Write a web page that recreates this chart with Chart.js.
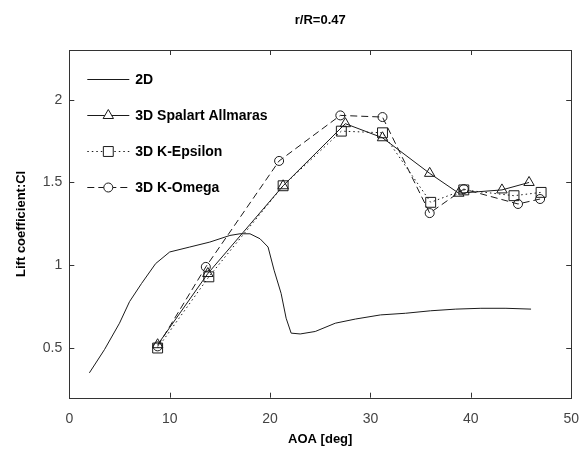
<!DOCTYPE html>
<html>
<head>
<meta charset="utf-8">
<script src="https://cdn.jsdelivr.net/npm/chart.js@4.4.1/dist/chart.umd.min.js"></script>
<style>
  html, body { margin: 0; padding: 0; background: #fff; overflow: hidden; }
  #wrap { position: relative; width: 582px; height: 451px; overflow: hidden; }
</style>
</head>
<body>
<div id="wrap"><canvas id="liftChart" width="592" height="451"></canvas></div>
<script>
// values
const aoa2D = [2, 3.5, 5, 6, 7.2, 8.6, 10, 12, 14, 16, 17, 18, 19, 19.8, 20.4, 21.1, 21.6, 22.1, 23, 24.5, 26.5, 28.5, 31, 33.5, 36, 38.5, 41, 43.5, 46];
const cl2D  = [0.35, 0.49, 0.65, 0.78, 0.89, 1.01, 1.08, 1.11, 1.14, 1.18, 1.19, 1.19, 1.16, 1.11, 0.97, 0.83, 0.68, 0.59, 0.585, 0.60, 0.65, 0.675, 0.70, 0.71, 0.725, 0.735, 0.74, 0.74, 0.735];

const aoaSA = [8.8, 13.8, 21.3, 27.5, 31.2, 35.9, 38.8, 43.1, 45.8];
const clSA  = [0.52, 0.95, 1.48, 1.855, 1.77, 1.555, 1.435, 1.455, 1.50];

const aoaKE = [8.8, 13.9, 21.3, 27.1, 31.2, 36.0, 39.3, 44.3, 47.0];
const clKE  = [0.50, 0.93, 1.48, 1.81, 1.80, 1.38, 1.455, 1.42, 1.44];

const aoaKO = [8.8, 13.6, 20.9, 27.0, 31.2, 35.9, 39.3, 44.7, 46.9];
const clKO  = [0.51, 0.99, 1.63, 1.905, 1.895, 1.315, 1.46, 1.37, 1.40];

const xTicks = [0, 10, 20, 30, 40, 50];
const yTicks = [0.5, 1, 1.5, 2];
const titleText = 'r/R=0.47';

const ink = '#1a1a1a';
const pts = (xs, ys) => xs.map((x, i) => ({ x: x, y: ys[i] }));

// matlab style box, inward ticks, title over the axes and a legend inside them
const framePlugin = {
  id: 'frame',
  afterDraw(chart) {
    const { ctx, chartArea: a, scales: { x, y } } = chart;
    ctx.save();
    ctx.strokeStyle = '#333';
    ctx.lineWidth = 1;
    ctx.strokeRect(Math.round(a.left) + 0.5, Math.round(a.top) + 0.5,
      Math.round(a.right - a.left), Math.round(a.bottom - a.top));
    ctx.beginPath();
    xTicks.forEach(v => {
      const px = Math.round(x.getPixelForValue(v)) + 0.5;
      ctx.moveTo(px, a.bottom); ctx.lineTo(px, a.bottom - 5);
      ctx.moveTo(px, a.top); ctx.lineTo(px, a.top + 5);
    });
    yTicks.forEach(v => {
      const py = Math.round(y.getPixelForValue(v)) + 0.5;
      ctx.moveTo(a.left, py); ctx.lineTo(a.left + 5, py);
      ctx.moveTo(a.right, py); ctx.lineTo(a.right - 5, py);
    });
    ctx.stroke();

    // title, centred over the axes like matlab does
    ctx.fillStyle = '#000';
    ctx.font = 'bold 13px "Liberation Sans", Arial, sans-serif';
    ctx.textAlign = 'center';
    ctx.textBaseline = 'middle';
    ctx.fillText(titleText, (a.left + a.right) / 2, a.top - 30);

    // legend
    const lx0 = a.left + 18, lx1 = a.left + 60, tx = a.left + 66;
    let ly = a.top + 29;
    chart.data.datasets.forEach(ds => {
      ctx.strokeStyle = ds.borderColor;
      ctx.lineWidth = ds.borderWidth;
      ctx.setLineDash(ds.borderDash || []);
      ctx.beginPath();
      ctx.moveTo(lx0, ly + 0.5); ctx.lineTo(lx1, ly + 0.5);
      ctx.stroke();
      ctx.setLineDash([]);
      if (ds.pointRadius > 0) {
        ctx.fillStyle = '#fff';
        ctx.strokeStyle = ink;
        Chart.helpers.drawPoint(ctx, {
          pointStyle: ds.pointStyle, radius: ds.pointRadius,
          borderWidth: 1, rotation: 0
        }, (lx0 + lx1) / 2, ly + 0.5);
      }
      ctx.fillStyle = '#000';
      ctx.font = 'bold 14px "Liberation Sans", Arial, sans-serif';
      ctx.textBaseline = 'middle';
      ctx.textAlign = 'left';
      ctx.fillText(ds.label, tx, ly + 1);
      ly += 36;
    });
    ctx.restore();
  }
};

const ctx = document.getElementById('liftChart').getContext('2d');
const chart = new Chart(ctx, {
  type: 'scatter',
  data: {
    datasets: [
      {
        label: '2D',
        data: pts(aoa2D, cl2D),
        showLine: true,
        borderColor: ink,
        borderWidth: 1,
        pointRadius: 0,
        tension: 0
      },
      {
        label: '3D Spalart Allmaras',
        data: pts(aoaSA, clSA),
        showLine: true,
        borderColor: ink,
        borderWidth: 1,
        pointStyle: 'triangle',
        pointRadius: 6,
        pointBackgroundColor: 'rgba(0,0,0,0)',
        pointBorderColor: ink,
        pointBorderWidth: 1
      },
      {
        label: '3D K-Epsilon',
        data: pts(aoaKE, clKE),
        showLine: true,
        borderColor: ink,
        borderWidth: 1,
        borderDash: [1.5, 3],
        pointStyle: 'rect',
        pointRadius: 7,
        pointBackgroundColor: 'rgba(0,0,0,0)',
        pointBorderColor: ink,
        pointBorderWidth: 1
      },
      {
        label: '3D K-Omega',
        data: pts(aoaKO, clKO),
        showLine: true,
        borderColor: ink,
        borderWidth: 1,
        borderDash: [7, 4],
        pointStyle: 'circle',
        pointRadius: 4.5,
        pointBackgroundColor: 'rgba(0,0,0,0)',
        pointBorderColor: ink,
        pointBorderWidth: 1
      }
    ]
  },
  options: {
    responsive: false,
    animation: false,
    devicePixelRatio: 1,
    layout: { padding: { left: 0, right: 17.7, top: 50, bottom: 0 } },
    plugins: {
      legend: { display: false },
      tooltip: { enabled: false },
      title: { display: false }
    },
    scales: {
      x: {
        type: 'linear',
        min: 0,
        max: 50,
        afterBuildTicks: s => { s.ticks = xTicks.map(v => ({ value: v })); },
        afterFit: s => { s.height = 451 - 397.7; },
        grid: { display: false, drawTicks: false },
        border: { display: false },
        ticks: {
          padding: 13,
          maxRotation: 0,
          color: '#444',
          font: { family: '"Liberation Sans", Arial, sans-serif', size: 14 }
        },
        title: {
          display: true,
          text: 'AOA [deg]',
          color: '#000',
          font: { family: '"Liberation Sans", Arial, sans-serif', size: 13, weight: 'bold' },
          padding: { top: 0, bottom: 4 }
        }
      },
      y: {
        type: 'linear',
        min: 0.2,
        max: 2.3,
        afterBuildTicks: s => { s.ticks = yTicks.map(v => ({ value: v })); },
        afterFit: s => { s.width = 69.3; },
        grid: { display: false, drawTicks: false },
        border: { display: false },
        ticks: {
          padding: 7,
          color: '#444',
          font: { family: '"Liberation Sans", Arial, sans-serif', size: 14 },
          callback: v => String(v)
        },
        title: {
          display: true,
          text: 'Lift coefficient:Cl',
          color: '#000',
          font: { family: '"Liberation Sans", Arial, sans-serif', size: 13, weight: 'bold' },
          padding: { top: 14, bottom: 0 }
        }
      }
    }
  },
  plugins: [framePlugin]
});
</script>
</body>
</html>
